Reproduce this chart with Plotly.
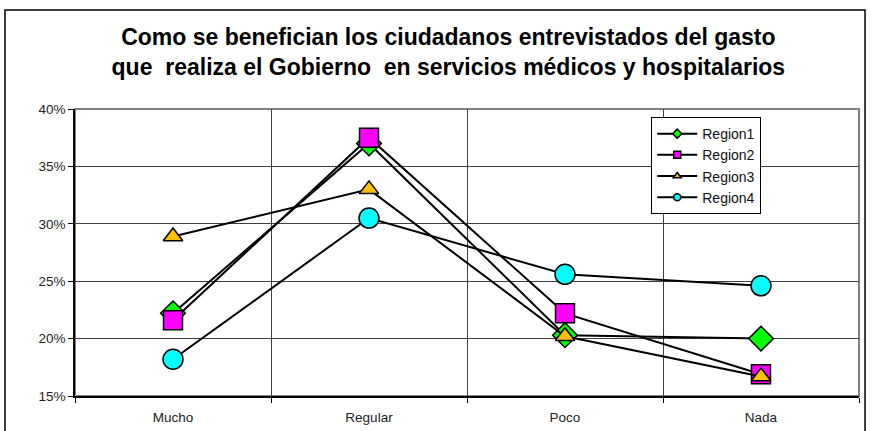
import plotly.graph_objects as go

# datos
categorias = ['Mucho', 'Regular', 'Poco', 'Nada']
region1 = [0.222, 0.370, 0.203, 0.200]
region2 = [0.216, 0.375, 0.222, 0.169]
region3 = [0.289, 0.330, 0.202, 0.167]
region4 = [0.182, 0.305, 0.256, 0.246]
y_ticks = [0.15, 0.20, 0.25, 0.30, 0.35, 0.40]

series = [
    ('Region1', region1, 'diamond', '#00FF00', 19),
    ('Region2', region2, 'square', '#FF00FF', 19),
    ('Region3', region3, 'triangle-up', '#FFC000', 17),
    ('Region4', region4, 'circle', '#00FFFF', 20),
]

fig = go.Figure()
for name, vals, sym, col, sz in series:
    fig.add_trace(go.Scatter(
        x=categorias, y=vals, name=name, mode='lines+markers',
        line=dict(color='black', width=2),
        marker=dict(symbol=sym, size=sz, color=col,
                    line=dict(color='black', width=1.5)),
        showlegend=False,
    ))
    # entrada de leyenda con marcador pequeño, como en Excel
    fig.add_trace(go.Scatter(
        x=[None], y=[None], name=name, mode='lines+markers',
        line=dict(color='black', width=2),
        marker=dict(symbol=sym, size=7, color=col,
                    line=dict(color='black', width=1.5)),
    ))

fig.update_layout(
    width=874, height=431,
    margin=dict(l=75, r=15, t=109, b=35),
    paper_bgcolor='white', plot_bgcolor='white',
    font=dict(family='Liberation Sans, Arial, sans-serif', size=13, color='black'),
    title=dict(
        text='<b>Como se benefician los ciudadanos entrevistados del gasto<br>'
             'que  realiza el Gobierno  en servicios médicos y hospitalarios</b>',
        x=0.513, xanchor='center', y=0.895, yanchor='middle',
        font=dict(size=23, color='black'),
    ),
    showlegend=True,
    legend=dict(
        x=0.735, y=0.972, xanchor='left', yanchor='top',
        bgcolor='white', bordercolor='black', borderwidth=1,
        font=dict(size=14, color='#111'), tracegroupgap=0,
        itemwidth=40,
    ),
    xaxis=dict(
        type='category', range=[-0.5, 3.5], tickson='boundaries',
        showgrid=True, gridcolor='#404040', gridwidth=1,
        ticks='outside', ticklen=5, tickcolor='black',
        showline=True, linecolor='black', linewidth=1.5,
        tickfont=dict(size=13.5, color='#222'), fixedrange=True,
        ticklabelstandoff=8, automargin=False,
    ),
    yaxis=dict(
        range=[0.15, 0.40], tickvals=y_ticks, tickformat='.0%',
        showgrid=True, gridcolor='#404040', gridwidth=1,
        ticks='outside', ticklen=5, tickcolor='black',
        showline=True, linecolor='black', linewidth=1.5,
        tickfont=dict(size=13.5, color='#222'), zeroline=False,
        automargin=False,
    ),
    shapes=[
        # borde del area de trazado
        dict(type='rect', xref='paper', yref='paper', x0=0, x1=1, y0=0, y1=1,
             line=dict(color='#808080', width=2), layer='below'),
        # marco exterior del grafico
        dict(type='rect', xref='paper', yref='paper', x0=-0.0893, x1=1.0077,
             y0=-0.2, y1=1.345, line=dict(color='black', width=1.5)),
    ],
)

# quitar el margen del body para que el grafico empiece en (0, 0)
fig.write_html('out.html', config={'displayModeBar': False},
               post_script="document.body.style.margin='0';")
